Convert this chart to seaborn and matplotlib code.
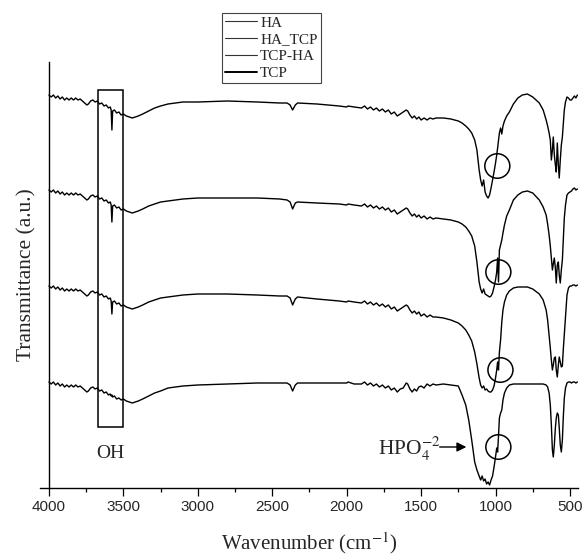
import numpy as np
import pandas as pd
import matplotlib
matplotlib.use("Agg")
import matplotlib.pyplot as plt
from matplotlib.patches import Ellipse, Rectangle
from matplotlib.lines import Line2D
from matplotlib.ticker import MultipleLocator
import seaborn as sns

# ---- FTIR spectra (transmittance, %T, each trace on its own baseline) ----
samples = ["HA", "HA_TCP", "TCP-HA", "TCP"]

wavenumber = [
    4000, 3985, 3970, 3955, 3940, 3925, 3910, 3895, 3880, 3865, 3850, 3835, 3820, 3805,
    3790, 3775, 3760, 3745, 3735, 3720, 3705, 3690, 3675, 3660, 3645, 3630, 3615, 3600,
    3588, 3582, 3577, 3572, 3560, 3545, 3530, 3515, 3500, 3480, 3460, 3440, 3420, 3400,
    3370, 3330, 3290, 3250, 3200, 3150, 3100, 3000, 2800, 2600, 2450, 2400,
    2380, 2363, 2345, 2330, 2200, 2050, 2000, 1990, 1950,
    1900, 1880, 1860, 1840, 1820, 1800, 1780, 1760, 1740, 1720, 1700, 1680, 1660, 1640,
    1620, 1600, 1590, 1575, 1560, 1545, 1530, 1515, 1500, 1480, 1460, 1440, 1420, 1400,
    1350, 1300, 1250, 1225, 1200, 1180, 1160, 1140, 1125, 1110, 1100, 1090, 1080, 1070,
    1060, 1050, 1040, 1030, 1020, 1010, 1000, 992, 986, 980, 974, 966, 958, 950, 940,
    925, 907, 880, 850, 820, 786, 750, 706, 680,
    660, 650, 640, 632, 625, 618, 612, 605, 598, 592, 585, 578, 572, 565, 558, 551, 545,
    538, 530, 520, 510, 500, 490, 480, 470, 460, 450,
]

t_ha = [
    100, 98, 100, 97, 99, 96, 98, 95, 97, 95, 97, 95, 97, 95,
    96, 94, 92, 90, 91, 94, 95, 93, 94, 91, 92, 89, 90, 87,
    88, 85, 65, 84, 85, 82, 83, 80, 81, 79, 78, 77, 78, 79,
    81, 84, 87, 89, 91, 92, 93, 93, 94, 93, 92, 92,
    90, 85, 90, 92, 91, 89, 88, 89, 88,
    87, 89, 86, 88, 85, 87, 84, 86, 83, 85, 81, 83, 79, 81,
    83, 85, 84, 80, 77, 79, 76, 78, 75, 77, 75, 77, 76, 77,
    77, 76, 74, 72, 69, 66, 62, 55, 45, 25, 15, 9, 15, 3,
    -1, -3, 0, 7, 15, 23, 32, 40, 47, 55, 62, 67, 61, 69, 74,
    79, 83, 91, 97, 100, 101, 98, 92, 85,
    75, 69, 62, 55, 35, 45, 58, 40, 30, 23, 52, 30, 17, 35, 50, 58, 70,
    85, 93, 98, 97, 95, 95, 97, 99, 97, 100,
]

t_ha_tcp = [
    100, 98, 100, 97, 99, 96, 98, 95, 97, 95, 97, 95, 97, 95,
    96, 94, 92, 90, 91, 94, 95, 93, 94, 91, 92, 89, 90, 87,
    88, 85, 68, 84, 85, 82, 83, 80, 81, 79, 78, 77, 78, 79,
    81, 84, 86, 88, 89, 90, 91, 92, 92, 92, 91, 90,
    88, 81, 87, 88, 87, 86, 85, 86, 85,
    84, 86, 83, 85, 82, 84, 81, 83, 80, 82, 78, 80, 76, 78,
    80, 82, 81, 77, 74, 76, 73, 75, 72, 74, 71, 73, 71, 72,
    71, 70, 68, 66, 63, 59, 54, 44, 28, 8, 1, -3, 1, -4,
    -5, -6, -7, -6, -3, 3, 10, 18, 32, 8, 40, 45, 50, 57, 65,
    74, 80, 90, 95, 98, 99, 97, 90, 83,
    75, 66, 55, 44, 32, 20, 26, 32, 22, 7, 25, 28, 15, 7, 20, 30, 50,
    72, 85, 95, 97, 98, 99, 101, 102, 100, 101,
]

t_tcp_ha = [
    100, 98, 100, 97, 99, 96, 98, 95, 97, 95, 97, 95, 97, 95,
    96, 94, 92, 90, 91, 94, 95, 93, 94, 91, 92, 89, 90, 87,
    88, 85, 72, 84, 85, 82, 83, 80, 81, 79, 78, 77, 78, 79,
    81, 84, 86, 88, 89, 90, 91, 92, 92, 91, 90, 90,
    88, 81, 87, 89, 87, 85, 84, 85, 84,
    83, 85, 82, 84, 81, 83, 80, 82, 79, 81, 77, 79, 75, 77,
    79, 81, 80, 76, 73, 75, 72, 74, 70, 72, 69, 71, 69, 69,
    68, 66, 63, 60, 56, 51, 45, 34, 22, 8, 1, -2, 0, -4,
    -3, -5, -6, -6, -4, 0, 8, 16, 24, 16, 34, 46, 64, 76, 84,
    91, 95, 98, 99, 99, 99, 97, 92, 86,
    76, 66, 51, 38, 26, 16, 21, 28, 29, 16, 9, 21, 29, 24, 19, 20, 36,
    51, 68, 91, 98, 100, 100, 101, 101, 100, 101,
]

t_tcp = [
    100, 98, 100, 97, 99, 96, 98, 95, 97, 95, 97, 95, 97, 95,
    96, 94, 92, 90, 91, 94, 95, 93, 94, 91, 92, 89, 90, 87,
    88, 86, 87, 85, 86, 83, 84, 82, 83, 81, 80, 79, 80, 81,
    83, 86, 89, 91, 94, 95, 96, 97, 98, 99, 99, 99,
    97, 91, 97, 99, 99, 99, 99, 100, 98,
    98, 100, 97, 99, 96, 98, 95, 97, 94, 96, 92, 94, 90, 93,
    94, 99, 98, 93, 90, 93, 91, 95, 96, 94, 98, 96, 98, 97,
    98, 97, 96, 87, 77, 62, 42, 20, 12, 6, 2, 6, 1, 3,
    -2, 0, -3, 2, 6, 15, 25, 34, 30, 46, 64, 69, 72, 82, 89,
    94, 97, 98, 98, 98, 98, 98, 98, 98,
    97, 95, 89, 77, 57, 32, 25, 37, 54, 64, 69, 67, 54, 37, 30, 42, 64,
    84, 94, 99, 100, 100, 99, 100, 100, 99, 100,
]

# vertical stacking of the traces (axis units)
offsets = [2.93, 1.98, 1.02, 0.06]

# highlighted features
oh_band = (3504, 3671)                 # wavenumber span of the O-H box
oh_box_levels = (0.61, 3.98)
hpo4_marks_wn = [988, 981, 967, 981]   # circled HPO4(2-) shoulder on each trace
hpo4_marks_level = [3.22, 2.16, 1.18, 0.41]

frames = []
for name, t, off in zip(samples, [t_ha, t_ha_tcp, t_tcp_ha, t_tcp], offsets):
    frames.append(pd.DataFrame({
        "wavenumber": wavenumber,
        "signal": np.asarray(t, dtype=float) / 100.0 + off,
        "sample": name,
    }))
df = pd.concat(frames, ignore_index=True)

# ---- styling ----
sns.set_style("ticks")
plt.rcParams["mathtext.fontset"] = "stix"
plt.rcParams["font.family"] = ["Liberation Serif", "DejaVu Serif"]

fig = plt.figure(figsize=(5.83, 5.56), dpi=100)
ax = fig.add_axes([40 / 583, 1 - 488 / 556, 538 / 583, 426 / 556])

sns.lineplot(
    data=df, x="wavenumber", y="signal", hue="sample",
    palette={s: "black" for s in samples}, estimator=None, sort=False,
    units="sample", legend=False, linewidth=1.0, ax=ax,
)

ax.set_xlim(4060, 446)
ax.set_ylim(0, 4.26)
ax.spines["left"].set_position(("data", 4000))
ax.spines["top"].set_visible(False)
ax.spines["right"].set_visible(False)
for sp in ("left", "bottom"):
    ax.spines[sp].set_linewidth(1.0)
    ax.spines[sp].set_color("black")

ax.xaxis.set_major_locator(MultipleLocator(500))
ax.xaxis.set_minor_locator(MultipleLocator(250))
ax.set_yticks([])
ax.tick_params(axis="x", which="major", direction="out", length=5.5, width=0.9,
               color="black", pad=3)
ax.tick_params(axis="x", which="minor", direction="out", length=3, width=0.9,
               color="black")
for lab in ax.get_xticklabels():
    lab.set_fontfamily("Liberation Sans")
    lab.set_fontsize(11)

ax.set_xlabel(r"Wavenumber (cm$^{-1}$)", fontsize=15, labelpad=12)
ax.set_ylabel("Transmittance (a.u.)", fontsize=15.5, labelpad=9)

# O-H stretching region
ax.add_patch(Rectangle((oh_band[0], oh_box_levels[0]), oh_band[1] - oh_band[0],
                       oh_box_levels[1] - oh_box_levels[0],
                       fill=False, edgecolor="black", linewidth=1.1))
ax.text(sum(oh_band) / 2, 0.35, "OH", ha="center", va="center", fontsize=14)

# HPO4 shoulder markers
for wn, lvl in zip(hpo4_marks_wn, hpo4_marks_level):
    ax.add_patch(Ellipse((wn, lvl), width=168, height=0.245, fill=False,
                         edgecolor="black", linewidth=1.1))

ax.annotate("", xy=(1196, 0.41), xytext=(1375, 0.41),
            arrowprops=dict(arrowstyle="-|>", color="black", lw=1.0,
                            mutation_scale=14, shrinkA=0, shrinkB=0))
ax.text(1370, 0.33, r"HPO$_4^{-2}$", ha="right", va="baseline", fontsize=15.5)

# legend
handles = [Line2D([], [], color=c, lw=w) for c, w in
           zip(["#333333", "#333333", "#333333", "black"], [0.8, 0.8, 0.8, 1.4])]
fig.legend(handles, samples, loc="upper left",
           bbox_to_anchor=(222 / 583, 1 - 13 / 556), frameon=True, fancybox=False,
           edgecolor="#444444", framealpha=1, fontsize=11, borderpad=0.2,
           labelspacing=0.2, handlelength=2.1, handletextpad=0.2, borderaxespad=0)
fig.legends[0].get_frame().set_linewidth(0.8)

fig.savefig("out.png", dpi=100, facecolor="white")
